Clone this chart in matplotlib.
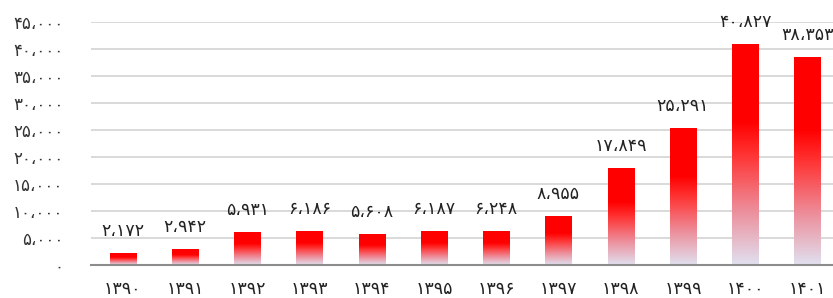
import matplotlib
matplotlib.use("Agg")
import matplotlib.pyplot as plt
import numpy as np
from matplotlib.colors import LinearSegmentedColormap

years = ["1390", "1391", "1392", "1393", "1394", "1395", "1396",
         "1397", "1398", "1399", "1400", "1401"]
values = [2172, 2942, 5931, 6186, 5608, 6187, 6248, 8955, 17849, 25291, 40827, 38353]
yticks = [0, 5000, 10000, 15000, 20000, 25000, 30000, 35000, 40000, 45000]

FA = str.maketrans("0123456789", "۰۱۲۳۴۵۶۷۸۹")

def fa_num(v):
    s = f"{v:,}".replace(",", "،")
    return s.translate(FA)

plt.rcParams['font.family'] = ['DejaVu Sans']

fig = plt.figure(figsize=(8.33, 2.98), dpi=100)
ax = fig.add_axes([91/833, 33/298, 1 - 91/833, 243/298])

cmap = LinearSegmentedColormap.from_list("g", [
    (0.0, (0.88, 0.88, 0.94)),
    (0.25, (0.93, 0.55, 0.60)),
    (0.5, (1.0, 0.2, 0.2)),
    (0.65, (1.0, 0.0, 0.0)),
    (1.0, (1.0, 0.0, 0.0)),
])
grad = np.linspace(0, 1, 256).reshape(-1, 1)

x = np.arange(len(years))
w = 0.42
for xi, v in zip(x, values):
    ax.imshow(grad, extent=[xi - w/2, xi + w/2, 0, v], origin="lower",
              aspect="auto", cmap=cmap, zorder=3, interpolation="bilinear")
    ax.text(xi, v + 2500, fa_num(v), ha="center", va="bottom", fontsize=12.5,
            color="#222222", clip_on=False, zorder=4)

ax.set_xlim(-0.51, 11.41)
ax.set_ylim(0, 45000)
ax.set_yticks(yticks)
ax.set_yticklabels([fa_num(t) for t in yticks], fontsize=12, color="#333333")
ax.set_xticks(x)
ax.set_xticklabels([y.translate(FA) for y in years], fontsize=12.5, color="#222222")
ax.tick_params(axis="y", length=0, pad=20)
ax.tick_params(axis="x", length=0, pad=11)
ax.grid(axis="y", color="#d9d9d9", linewidth=1.4, zorder=0)
ax.set_axisbelow(True)
for s in ["top", "right", "left"]:
    ax.spines[s].set_visible(False)
ax.spines["bottom"].set_color("#8c8c8c")
ax.spines["bottom"].set_linewidth(1.5)
ax.spines["bottom"].set_zorder(5)

fig.savefig("out.png", dpi=100)
